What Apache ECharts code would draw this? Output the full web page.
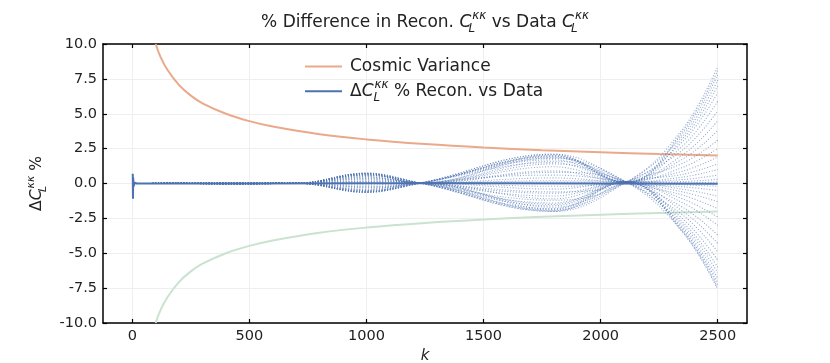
<!DOCTYPE html>
<html>
<head>
<meta charset="utf-8">
<script src="https://cdn.jsdelivr.net/npm/echarts@6/dist/echarts.min.js"></script>
<style>
  html, body { margin: 0; padding: 0; background: #fff; }
  #chart { width: 830px; height: 363px; }
</style>
</head>
<body>
<div id="chart"></div>
<script>
const FONT = 'DejaVu Sans'
const DELTA = 'ΔC % Recon. vs Data'

// x ticks (k)
const kTicks = [0, 500, 1000, 1500, 2000, 2500]

const cvK = [100, 120, 150, 200, 250, 300, 400, 500, 600, 800, 1000, 1250, 1500, 1750, 2000, 2250, 2500]
const cvUpper = [10.0, 9.1, 8.15, 7.05, 6.3, 5.75, 5.0, 4.47, 4.08, 3.53, 3.16, 2.83, 2.58, 2.39, 2.24, 2.11, 2.0]
const cvLower = [-10.0, -9.1, -8.15, -7.05, -6.3, -5.75, -5.0, -4.47, -4.08, -3.53, -3.16, -2.83, -2.58, -2.39, -2.24, -2.11, -2.0]

// solid blue line (mean difference), spike at the very start
const meanK = [2, 3, 4, 6, 10, 20, 500, 1000, 1500, 2000, 2500]
const meanDiff = [0.7, -1.1, 0.4, -0.2, 0.05, 0, 0, 0.02, 0.01, 0, -0.02]

// dotted lines: shared nodes where all lines meet
const nodeK = [15, 200, 700, 1230, 2110]
const nodeVal = [0, 0.01, 0.02, 0.03, 0.1]

// per-line values at the lobe peaks and the end fan
const at450 = [0.05, -0.04, 0.02, 0.06, -0.05, 0.01, -0.03, 0.04, -0.05, 0.06, -0.02, 0.03, -0.06, 0.02, 0.05, -0.02, 0.04, -0.05,
  0.01, -0.04, 0.06, -0.04, 0.0, 0.04, -0.03, 0.05, 0.02, -0.05, 0.04, -0.01, 0.03, -0.04, 0.05, 0.02, -0.05, 0.03]
const at1000 = [0.7, -0.6, 0.3, 0.75, -0.5, 0.1, -0.65, 0.6, -0.2, 0.72, -0.4, 0.5, -0.62, 0.2, 0.65, -0.1, 0.74, -0.55,
  0.4, -0.3, 0.68, -0.64, 0.0, 0.55, -0.45, 0.73, 0.15, -0.6, 0.62, -0.25, 0.45, -0.58, 0.7, 0.35, -0.5, 0.6]
const at1800 = [-1.2, 2.1, 0.4, -2.0, 1.9, -0.6, 1.5, -1.9, 2.0, 0.9, -1.7, 1.2, -0.2, -1.95, 2.05, 0.1, -1.4, 1.7,
  -0.9, 1.95, -1.8, 0.6, 1.85, -2.0, -0.4, 1.4, -1.5, 2.1, 0.2, -1.1, 1.6, -1.85, 0.8, -0.7, 1.8, -1.6]
const at2350 = [3.9, 3.75, 3.6, 3.4, 3.2, 3.0, 2.7, 2.4, 2.05, 1.75, 1.45, 1.15, 0.88, 0.65, 0.46, 0.28, 0.14, 0.05,
  -0.09, -0.23, -0.41, -0.6, -0.83, -1.1, -1.38, -1.7, -1.98, -2.25, -2.53, -2.76, -2.94, -3.12, -3.26, -3.36, -3.45, -3.5]
const at2500 = [8.4, 8.1, 7.8, 7.4, 7.0, 6.5, 5.9, 5.2, 4.5, 3.8, 3.1, 2.5, 1.9, 1.4, 1.0, 0.6, 0.3, 0.1,
  -0.2, -0.5, -0.9, -1.3, -1.8, -2.4, -3.0, -3.7, -4.3, -4.9, -5.5, -6.0, -6.4, -6.8, -7.1, -7.3, -7.5, -7.6]

const zip = (xs, ys) => xs.map((x, i) => [x, ys[i]])

function mathRich(size) {
  const small = Math.round(size * 0.7 * 10) / 10
  return {
    n: { fontFamily: FONT, fontSize: size, color: '#222', lineHeight: size * 1.45 },
    sp: { width: 3 },
    c: { fontFamily: FONT, fontSize: size, fontStyle: 'italic', color: '#222', lineHeight: size * 1.45 },
    sub: { fontFamily: FONT, fontSize: small, fontStyle: 'italic', color: '#222', verticalAlign: 'bottom', lineHeight: small * 1.1, width: 1, align: 'left' },
    sup: { fontFamily: FONT, fontSize: small, fontStyle: 'italic', color: '#222', verticalAlign: 'top', lineHeight: small * 1.1 }
  }
}
const CLKK = '{c|C}{sub|L}{sup|κκ}'

function fanLine(i) {
  const pts = [
    [nodeK[0], nodeVal[0]], [nodeK[1], nodeVal[1]], [450, at450[i]], [nodeK[2], nodeVal[2]],
    [1000, at1000[i]], [nodeK[3], nodeVal[3]], [1800, at1800[i]], [nodeK[4], nodeVal[4]],
    [2350, at2350[i]], [2500, at2500[i]]
  ]
  return {
    type: 'line', data: pts, smooth: 0.4, symbol: 'none', silent: true,
    color: 'rgba(76,114,176,0.6)',
    lineStyle: { width: 1.1, type: [1, 1.8] }
  }
}

const chart = echarts.init(document.getElementById('chart'))
const axisBlack = { color: '#000', width: 1.5 }
const tickStyle = { color: '#000', width: 1.2 }

chart.setOption({
  animation: false,
  backgroundColor: '#fff',
  title: {
    text: '% Difference in Recon. ' + CLKK + ' vs Data ' + CLKK,
    left: 420, textAlign: 'center', top: 5,
    textStyle: { fontFamily: FONT, fontSize: 17, fontWeight: 'normal', color: '#222', lineHeight: 24, rich: mathRich(17) }
  },
  legend: {
    left: 300, top: 53, orient: 'vertical', itemGap: 4,
    data: ['Cosmic Variance', DELTA],
    icon: 'rect', itemWidth: 37, itemHeight: 2,
    selectedMode: false,
    formatter: name => name === DELTA ? '{sp|}{n|Δ}' + CLKK + '{n| % Recon. vs Data}' : '{sp|}{n|Cosmic Variance}',
    textStyle: { fontFamily: FONT, fontSize: 17, color: '#222', rich: mathRich(17) }
  },
  grid: { left: 103, right: 83, top: 44, bottom: 40, outerBoundsMode: 'none', containLabel: false },
  xAxis: [{
    type: 'value', min: -125, max: 2625, position: 'bottom',
    name: 'k', nameLocation: 'middle', nameGap: 17,
    nameTextStyle: { fontFamily: FONT, fontStyle: 'italic', fontSize: 15, color: '#222' },
    axisLine: { onZero: false, lineStyle: axisBlack },
    axisTick: { inside: true, length: 4, customValues: kTicks, lineStyle: tickStyle },
    axisLabel: { customValues: kTicks, margin: 6, fontFamily: FONT, fontSize: 14.5, color: '#222', formatter: v => String(v) },
    splitLine: { show: true, lineStyle: { color: '#efefef', width: 1 } }
  }, {
    type: 'value', min: -125, max: 2625, position: 'top',
    axisLine: { onZero: false, lineStyle: axisBlack },
    axisTick: { inside: true, length: 4, customValues: kTicks, lineStyle: tickStyle },
    axisLabel: { show: false },
    splitLine: { show: false }
  }],
  yAxis: [{
    type: 'value', min: -10, max: 10, interval: 2.5, position: 'left',
    name: '{n|Δ}' + CLKK + '{n| %}', nameLocation: 'middle', nameGap: 52, nameRotate: 90,
    nameTextStyle: { fontFamily: FONT, fontSize: 15.5, color: '#222', rich: mathRich(15.5) },
    axisLine: { onZero: false, lineStyle: axisBlack },
    axisTick: { inside: true, length: 4, lineStyle: tickStyle },
    axisLabel: { margin: 6, fontFamily: FONT, fontSize: 14.5, color: '#222', formatter: v => v.toFixed(1) },
    splitLine: { show: true, lineStyle: { color: '#efefef', width: 1 } }
  }, {
    type: 'value', min: -10, max: 10, interval: 2.5, position: 'right',
    axisLine: { onZero: false, lineStyle: axisBlack },
    axisTick: { inside: true, length: 4, lineStyle: tickStyle },
    axisLabel: { show: false },
    splitLine: { show: false }
  }],
  series: [
    {
      name: 'Cosmic Variance', type: 'line', data: zip(cvK, cvUpper), smooth: 0.4, symbol: 'none',
      color: '#eaa98a', lineStyle: { width: 2 }, silent: true
    },
    {
      name: 'cv-lower', type: 'line', data: zip(cvK, cvLower), smooth: 0.4, symbol: 'none',
      color: '#c9e3cf', lineStyle: { width: 2 }, silent: true
    },
    ...at2500.map((_, i) => fanLine(i)),
    {
      name: DELTA, type: 'line', data: zip(meanK, meanDiff), symbol: 'none',
      color: '#4c72b0', lineStyle: { width: 2 }, silent: true
    }
  ]
})
</script>
</body>
</html>
